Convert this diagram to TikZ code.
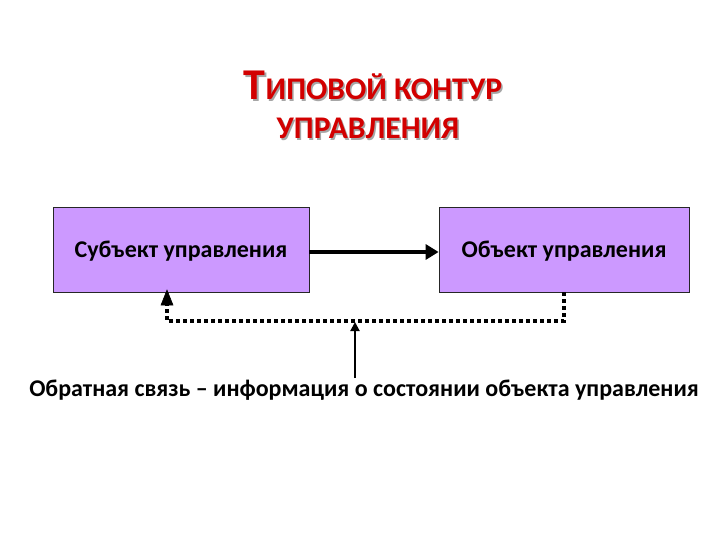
\documentclass[tikz,border=0pt]{standalone}
\usepackage{fontspec}
\setmainfont{Carlito}
\usetikzlibrary{arrows.meta}
\definecolor{boxfill}{RGB}{204,153,255}
\definecolor{titlered}{RGB}{210,0,0}
\tikzset{
  box/.style={draw=black!85,line width=0.8pt,fill=boxfill,minimum width=#1,minimum height=85pt,inner sep=0pt},
  lbl/.style={font=\fontsize{24}{28}\selectfont\bfseries,inner sep=0pt},
  fb/.style={line width=4pt,dash pattern=on 4pt off 3pt},
  ttl/.style={inner sep=0pt,text=titlered,font=\bfseries},
  shd/.style={inner sep=0pt,text=black!35,font=\bfseries}
}
\newcommand{\tlineA}{{\fontsize{44}{44}\selectfont Т}{\fontsize{31.5}{32}\selectfont ИПОВОЙ КОНТУР}}
\newcommand{\tlineB}{{\fontsize{31.5}{32}\selectfont УПРАВЛЕНИЯ}}
\begin{document}
\begin{tikzpicture}[x=1pt,y=-1pt]
\useasboundingbox (0,0) rectangle (720,540);
% title with shadow
\node[shd,anchor=base] at (374.5,101.5) {\tlineA};
\node[ttl,anchor=base] (t1) at (373,100) {\tlineA};
\node[shd,anchor=base] at (369.5,140.5) {\tlineB};
\node[ttl,anchor=base] (t2) at (368,139) {\tlineB};
% boxes
\node[box=256pt] (s) at (181,249.5) {};
\node[box=250pt] (o) at (564,249.5) {};
\node[lbl,anchor=base] (sl) at (181,258) {Субъект управления};
\node[lbl,anchor=base] (ol) at (564,258) {Объект управления};
% main arrow
\draw[line width=4pt,-{Triangle[length=13pt,width=15pt]}] (s.east |- 0,252) -- (o.west |- 0,252);
% feedback
\coordinate (c1) at (564,321);
\coordinate (c2) at (167,321);
\draw[fb] (o.south -| c1) -- (c1) -- (c2) -- (167,305);
\draw[line width=0.5pt,fill=black] (167,290) -- (161,305) -- (173,305) -- cycle;
% bottom label
\node[lbl,anchor=base] (fbl) at (364,396) {Обратная связь – информация о состоянии объекта управления};
\coordinate (m) at (355,378);
\draw[line width=2pt,-{Triangle[length=9pt,width=9pt]}] (m) -- (355,322);
\end{tikzpicture}
\end{document}
